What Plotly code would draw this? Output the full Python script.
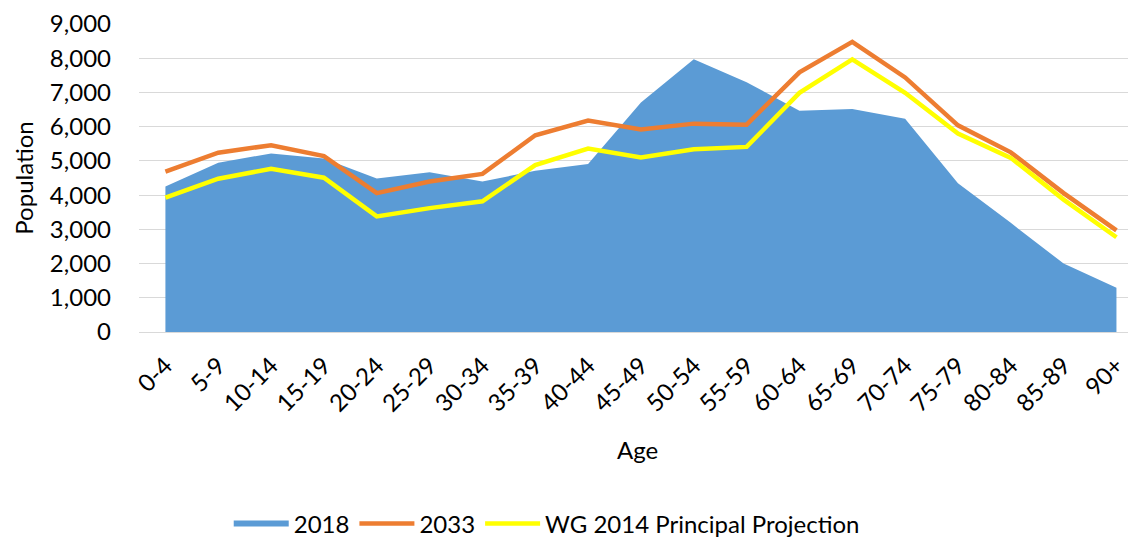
import plotly.graph_objects as go

ages = ["0-4", "5-9", "10-14", "15-19", "20-24", "25-29", "30-34", "35-39", "40-44",
        "45-49", "50-54", "55-59", "60-64", "65-69", "70-74", "75-79", "80-84", "85-89", "90+"]
pop_2018 = [4250, 4950, 5220, 5070, 4490, 4670, 4400, 4710, 4910,
            6710, 7970, 7300, 6470, 6520, 6230, 4350, 3190, 2000, 1290]
pop_2033 = [4690, 5240, 5460, 5140, 4060, 4400, 4620, 5750, 6180,
            5920, 6090, 6060, 7590, 8480, 7440, 6040, 5250, 4060, 2970]
pop_wg2014 = [3930, 4480, 4770, 4510, 3380, 3620, 3820, 4880, 5360,
              5100, 5340, 5410, 6990, 7970, 6990, 5800, 5090, 3870, 2770]

FONT = "Lato"
fig = go.Figure()
fig.add_trace(go.Scatter(x=ages, y=pop_2018, name="2018", mode="none",
                         fill="tozeroy", fillcolor="#5B9BD5"))
fig.add_trace(go.Scatter(x=ages, y=pop_2033, name="2033", mode="lines",
                         line=dict(color="#ED7D31", width=4.5)))
fig.add_trace(go.Scatter(x=ages, y=pop_wg2014, name="WG 2014 Principal Projection", mode="lines",
                         line=dict(color="#FFFF00", width=4.5)))

# page body has an 8px default margin, so the figure is drawn 8px in from the top-left
fig.update_layout(
    width=1128, height=533,
    margin=dict(l=131, r=0, t=13, b=209),
    plot_bgcolor="white", paper_bgcolor="white",
    font=dict(family=FONT, size=24, color="#000000"),
    showlegend=True,
    legend=dict(orientation="h", x=0.09, xanchor="left", y=0.032, yref="container",
                yanchor="middle", font=dict(size=24), traceorder="normal",
                itemwidth=55),
    xaxis=dict(type="category", range=[-0.5, 18.37], tickangle=-45,
               showgrid=False, showline=False, ticks="", ticklabelstandoff=14,
               title=dict(text="Age", standoff=26, font=dict(size=24))),
    yaxis=dict(range=[0, 9002], dtick=1000, tickformat=",", showgrid=True,
               gridcolor="#D9D9D9", gridwidth=1.3, zeroline=True, zerolinecolor="#D9D9D9",
               zerolinewidth=1.3, ticks="", ticklabelstandoff=27, ticklabeloverflow="allow",
               title=dict(text="Population", standoff=9, font=dict(size=24))),
)
fig.write_html("out.html")
